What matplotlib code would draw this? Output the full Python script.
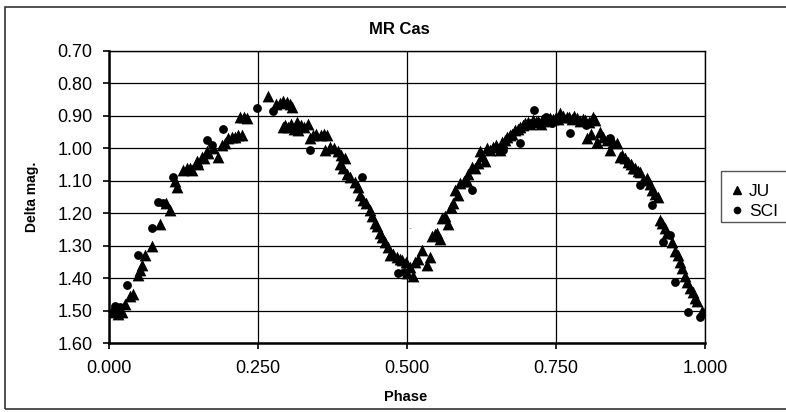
import matplotlib

matplotlib.use("Agg")
import matplotlib.pyplot as plt
import matplotlib.patches as mpatches
from matplotlib.lines import Line2D
from matplotlib.ticker import FormatStrFormatter

plt.rcParams["font.family"] = ["Liberation Sans", "DejaVu Sans"]

# ── Data ─────────────────────────────────────────────────────────────────────

ju_phase = [
    0.005, 0.010, 0.015, 0.020, 0.022, 0.027, 0.035, 0.040, 0.049, 0.052,
    0.055, 0.060, 0.072, 0.085, 0.095, 0.102, 0.110, 0.114, 0.124, 0.131,
    0.136, 0.139, 0.147, 0.150, 0.156, 0.160, 0.164, 0.166, 0.175, 0.183,
    0.189, 0.195, 0.200, 0.206, 0.211, 0.217, 0.223, 0.220, 0.226, 0.231,
    0.267, 0.280, 0.287, 0.292, 0.298, 0.303, 0.307, 0.292, 0.296, 0.300,
    0.305, 0.310, 0.315, 0.317, 0.322, 0.327, 0.334, 0.337, 0.342, 0.348,
    0.355, 0.360, 0.365, 0.362, 0.371, 0.378, 0.384, 0.390, 0.396, 0.388,
    0.393, 0.400, 0.405, 0.413, 0.418, 0.421, 0.426, 0.432, 0.438, 0.442,
    0.446, 0.450, 0.455, 0.458, 0.463, 0.468, 0.471, 0.477, 0.483, 0.488,
    0.492, 0.498, 0.500, 0.505, 0.510, 0.513, 0.518, 0.525, 0.533, 0.539,
    0.542, 0.547, 0.550, 0.555, 0.558, 0.564, 0.569, 0.574, 0.577, 0.580,
    0.586, 0.589, 0.595, 0.600, 0.603, 0.609, 0.614, 0.619, 0.622, 0.626,
    0.631, 0.635, 0.639, 0.645, 0.650, 0.656, 0.660, 0.664, 0.668, 0.672,
    0.676, 0.681, 0.686, 0.690, 0.694, 0.698, 0.703, 0.707, 0.711, 0.716,
    0.720, 0.724, 0.727, 0.732, 0.736, 0.740, 0.745, 0.750, 0.754, 0.757,
    0.762, 0.768, 0.772, 0.777, 0.781, 0.785, 0.790, 0.795, 0.799, 0.805,
    0.812, 0.815, 0.802, 0.808, 0.819, 0.824, 0.829, 0.836, 0.841, 0.846,
    0.852, 0.857, 0.861, 0.866, 0.871, 0.875, 0.879, 0.883, 0.887, 0.891,
    0.896, 0.903, 0.907, 0.911, 0.916, 0.921, 0.924, 0.928, 0.933, 0.937,
    0.945, 0.950, 0.954, 0.958, 0.962, 0.966, 0.970, 0.975, 0.980, 0.984,
    0.987, 0.995, 1.000,
]
ju_mag = [
    1.500, 1.505, 1.510, 1.500, 1.505, 1.480, 1.456, 1.450, 1.390, 1.375,
    1.360, 1.330, 1.300, 1.235, 1.170, 1.190, 1.100, 1.120, 1.067, 1.060,
    1.060, 1.067, 1.040, 1.050, 1.027, 1.030, 1.010, 1.015, 1.000, 1.027,
    0.990, 0.985, 0.970, 0.965, 0.965, 0.960, 0.960, 0.905, 0.905, 0.907,
    0.840, 0.865, 0.860, 0.855, 0.857, 0.865, 0.873, 0.935, 0.930, 0.935,
    0.925, 0.940, 0.920, 0.944, 0.930, 0.935, 0.925, 0.970, 0.960, 0.955,
    0.960, 0.955, 0.960, 1.005, 0.995, 1.000, 1.010, 1.020, 1.030, 1.050,
    1.060, 1.080, 1.090, 1.105, 1.120, 1.143, 1.160, 1.170, 1.190, 1.210,
    1.230, 1.240, 1.260, 1.275, 1.290, 1.305, 1.330, 1.325, 1.335, 1.340,
    1.345, 1.350, 1.385, 1.367, 1.395, 1.350, 1.340, 1.315, 1.360, 1.335,
    1.270, 1.265, 1.260, 1.280, 1.215, 1.210, 1.235, 1.180, 1.170, 1.130,
    1.145, 1.108, 1.100, 1.100, 1.080, 1.057, 1.060, 1.045, 1.010, 1.025,
    1.040, 1.000, 1.005, 0.995, 0.990, 1.005, 0.980, 0.975, 0.965, 0.960,
    0.955, 0.944, 0.940, 0.935, 0.930, 0.923, 0.920, 0.925, 0.913, 0.920,
    0.915, 0.925, 0.913, 0.910, 0.915, 0.907, 0.910, 0.905, 0.910, 0.892,
    0.900, 0.904, 0.905, 0.910, 0.900, 0.907, 0.915, 0.910, 0.913, 0.920,
    0.903, 0.913, 0.968, 0.955, 0.980, 0.950, 0.965, 0.975, 1.005, 0.980,
    0.984, 1.027, 1.020, 1.030, 1.042, 1.050, 1.060, 1.060, 1.070, 1.073,
    1.097, 1.092, 1.110, 1.128, 1.140, 1.149, 1.220, 1.230, 1.245, 1.260,
    1.290, 1.318, 1.330, 1.352, 1.370, 1.395, 1.413, 1.430, 1.444, 1.460,
    1.470, 1.500, 1.505,
]

sci_phase = [
    0.010, 0.019, 0.030, 0.049, 0.072, 0.082, 0.091, 0.107, 0.164, 0.172,
    0.191, 0.248, 0.275, 0.337, 0.424, 0.485, 0.495, 0.609, 0.661, 0.690,
    0.713, 0.734, 0.743, 0.773, 0.800, 0.840, 0.870, 0.891, 0.911, 0.930,
    0.941, 0.950, 0.972, 0.992,
]
sci_mag = [
    1.487, 1.490, 1.420, 1.330, 1.245, 1.165, 1.170, 1.090, 0.975, 0.990,
    0.940, 0.875, 0.885, 1.005, 1.090, 1.385, 1.380, 1.128, 1.005, 0.983,
    0.883, 0.903, 0.923, 0.953, 0.930, 0.970, 1.050, 1.112, 1.174, 1.290,
    1.266, 1.413, 1.505, 1.520,
]

x_ticks = [0.0, 0.25, 0.5, 0.75, 1.0]
y_ticks = [0.70, 0.80, 0.90, 1.00, 1.10, 1.20, 1.30, 1.40, 1.50, 1.60]

W, H = 786, 412


def fx(px):
    return px / W


def fy(py):
    return 1 - py / H


fig = plt.figure(figsize=(W / 100, H / 100), dpi=100)
fig.patch.set_facecolor("white")

# outer chart frame (runs off the right edge like the reference)
fig.patches.append(mpatches.Rectangle(
    (fx(5), fy(409)), fx(820) - fx(5), fy(7) - fy(409),
    transform=fig.transFigure, facecolor="none", edgecolor="#333333",
    linewidth=1.2, clip_on=False))

ax = fig.add_axes([fx(109), fy(343), fx(705) - fx(109), fy(50.7) - fy(343)])

ax.scatter(ju_phase, ju_mag, marker="^", s=72, color="black", linewidths=0, zorder=3)
ax.scatter(sci_phase, sci_mag, marker="o", s=40, color="black", linewidths=0, zorder=3)

ax.text(0.505, 1.245, "..", fontsize=5, color="#555555", ha="center", va="center")

ax.set_xlim(0, 1)
ax.set_ylim(1.60, 0.70)
ax.set_xticks(x_ticks)
ax.set_yticks(y_ticks)
ax.xaxis.set_major_formatter(FormatStrFormatter("%.3f"))
ax.yaxis.set_major_formatter(FormatStrFormatter("%.2f"))
ax.grid(True, color="black", linewidth=0.9)
ax.set_axisbelow(True)
ax.tick_params(axis="both", direction="out", length=4, width=1.2,
               labelsize=13, pad=8)
for side in ["left", "bottom"]:
    ax.spines[side].set_linewidth(1.8)
for side in ["top", "right"]:
    ax.spines[side].set_linewidth(1.0)

fig.text(fx(399), fy(30), "MR Cas", ha="center", va="center",
         fontsize=12, fontweight="bold")
fig.text(fx(406), fy(397), "Phase", ha="center", va="center",
         fontsize=10.5, fontweight="bold")
fig.text(fx(32), fy(197), "Delta mag.", ha="center", va="center",
         rotation=90, fontsize=10, fontweight="bold")

# legend box, cut by the right edge
fig.patches.append(mpatches.Rectangle(
    (fx(721), fy(222)), fx(820) - fx(721), fy(171) - fy(222),
    transform=fig.transFigure, facecolor="white", edgecolor="#555555",
    linewidth=1.0, clip_on=False))
handles = [
    Line2D([], [], marker="^", color="black", linestyle="none", markersize=6),
    Line2D([], [], marker="o", color="black", linestyle="none", markersize=4.5),
]
fig.legend(handles, ["JU", "SCI"], loc="upper left",
           bbox_to_anchor=(fx(716), fy(170)), frameon=False, fontsize=12.5,
           handlelength=0.8, handletextpad=0.3, labelspacing=0.3,
           borderpad=0.3)

fig.savefig("out.png", dpi=100, facecolor="white")
